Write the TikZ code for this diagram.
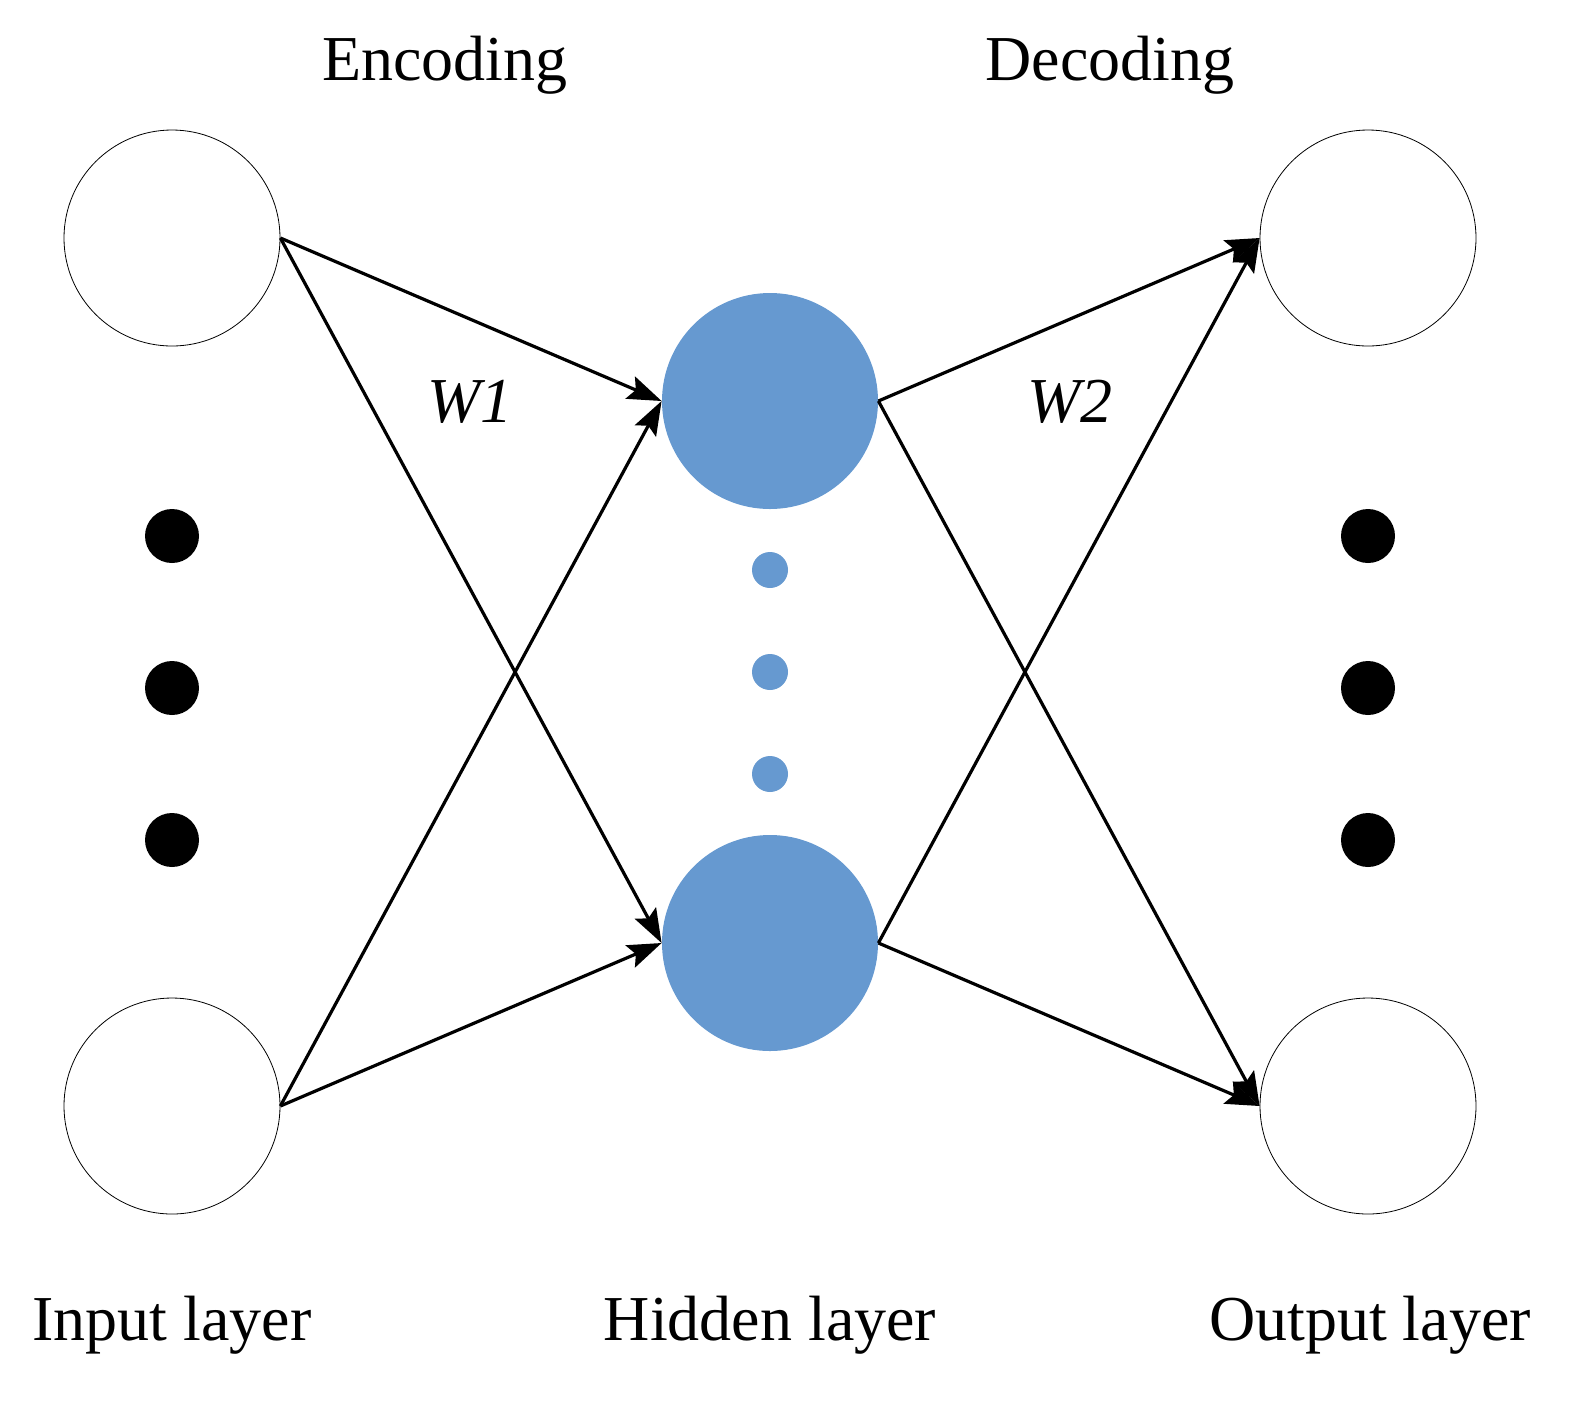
\documentclass[tikz,border=0pt]{standalone}
\usepackage{fontspec}
\setmainfont{Liberation Serif}
\usetikzlibrary{arrows.meta}
\definecolor{hid}{HTML}{6699D0}
\begin{document}
\begin{tikzpicture}[x=0.5pt,y=-0.5pt,
  io/.style={circle,draw,line width=0.4pt,minimum size=108pt,inner sep=0},
  hd/.style={circle,fill=hid,minimum size=108pt,inner sep=0},
  sd/.style={circle,fill=hid,minimum size=18pt,inner sep=0},
  bd/.style={circle,fill=black,minimum size=27pt,inner sep=0},
  lab/.style={font=\fontsize{32pt}{36pt}\selectfont},
  ar/.style={line width=1.6pt,-{Stealth[length=17pt,width=12pt,inset=3pt]}}]
\useasboundingbox (0,0) rectangle (1586,1405);
\node[io] (i1) at (172,238) {};
\node[io] (i2) at (172,1106) {};
\node[io] (o1) at (1368,238) {};
\node[io] (o2) at (1368,1106) {};
\node[hd] (h1) at (770,401) {};
\node[hd] (h2) at (770,943) {};
\foreach \y/\n in {570/1,672/2,774/3} \node[sd] (s\n) at (770,\y) {};
\foreach \y/\n in {536/1,688/2,840/3} {\node[bd] (l\n) at (172,\y) {}; \node[bd] (r\n) at (1368,\y) {};}
\draw[ar] (i1.east) -- (h1.west);
\draw[ar] (i1.east) -- (h2.west);
\draw[ar] (i2.east) -- (h1.west);
\draw[ar] (i2.east) -- (h2.west);
\draw[ar] (h1.east) -- (o1.west);
\draw[ar] (h1.east) -- (o2.west);
\draw[ar] (h2.east) -- (o1.west);
\draw[ar] (h2.east) -- (o2.west);
\node[lab] (enc) at (445,65) {Encoding};
\node[lab] (dec) at (1110,65) {Decoding};
\node[lab,font=\fontsize{32pt}{36pt}\selectfont\itshape] (w1) at (470,402) {W1};
\node[lab,font=\fontsize{32pt}{36pt}\selectfont\itshape] (w2) at (1070,402) {W2};
\node[lab] (il) at (172,1325) {Input layer};
\node[lab] (hl) at (770,1325) {Hidden layer};
\node[lab] (ol) at (1370,1325) {Output layer};
\end{tikzpicture}
\end{document}
